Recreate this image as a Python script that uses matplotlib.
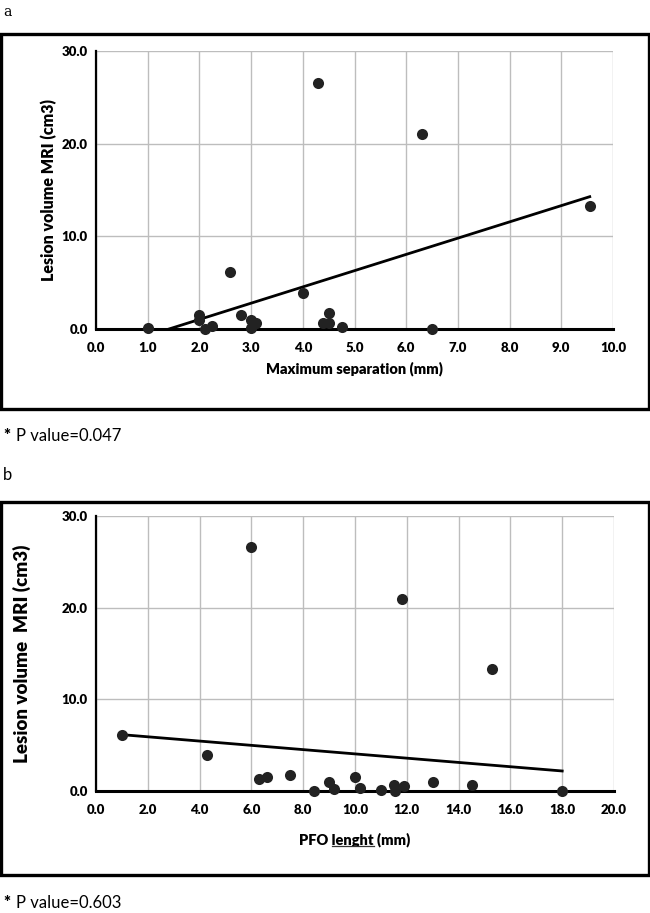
import numpy as np
import matplotlib.pyplot as plt
from matplotlib.patches import Rectangle
from matplotlib.lines import Line2D

plt.rcParams['font.family'] = ['Lato', 'DejaVu Sans']

# panel a: maximum separation vs lesion volume
sep_mm = [1.0, 2.0, 2.0, 2.1, 2.25, 2.6, 2.8, 3.0, 3.0, 3.1, 4.0, 4.3, 4.5, 4.4, 4.5, 4.75, 6.3, 6.5, 9.55]
vol_a = [0.1, 1.5, 1.0, 0.05, 0.3, 6.1, 1.5, 1.0, 0.1, 0.7, 3.9, 26.6, 1.7, 0.7, 0.6, 0.2, 21.0, 0.05, 13.3]

# panel b: PFO length vs lesion volume
pfo_mm = [1.0, 4.3, 6.0, 6.3, 6.6, 7.5, 8.4, 9.0, 9.2, 10.0, 10.2, 11.0, 11.5, 11.55, 11.8, 11.9, 13.0, 14.5, 15.3, 18.0]
vol_b = [6.1, 3.9, 26.6, 1.3, 1.5, 1.7, 0.05, 1.0, 0.2, 1.5, 0.3, 0.1, 0.7, 0.05, 21.0, 0.6, 1.0, 0.7, 13.3, 0.05]

yticks = [0, 10, 20, 30]
xticks_a = np.arange(0, 11, 1)
xticks_b = np.arange(0, 21, 2)

W, H = 650, 913
fig = plt.figure(figsize=(W / 100, H / 100), dpi=100)


def px_axes(left, top, right, bottom):
    return fig.add_axes([left / W, 1 - bottom / H, (right - left) / W, (bottom - top) / H])


def px_box(left, top, right, bottom):
    fig.patches.append(Rectangle((left / W, 1 - bottom / H), (right - left) / W, (bottom - top) / H,
                                 transform=fig.transFigure, fill=False, ec='black', lw=2.4))


def panel(ax, x, y, xticks, xlabel, ylabel, xl_size, yl_size, xpad, ypad):
    x = np.array(x)
    y = np.array(y)
    k, b = np.polyfit(x, y, 1)
    xs = np.array([x.min(), x.max()])
    ax.plot(xs, k * xs + b, color='black', lw=2.0, zorder=2)
    ax.scatter(x, y, s=64, color='#222222', zorder=4, clip_on=False, linewidths=0)
    ax.set_xlim(xticks[0], xticks[-1])
    ax.set_ylim(0, 30)
    ax.set_xticks(xticks)
    ax.set_yticks(yticks)
    ax.set_xticklabels(['%.1f' % t for t in xticks], fontweight='heavy', fontsize=9.5)
    ax.set_yticklabels(['%.1f' % t for t in yticks], fontweight='heavy', fontsize=9.5)
    ax.tick_params(axis='x', length=0, pad=9)
    ax.tick_params(axis='y', length=0, pad=6)
    ax.grid(True, color='#bdbdbd', lw=1.0)
    ax.set_axisbelow(True)
    for s in ['top', 'right']:
        ax.spines[s].set_visible(False)
    ax.spines['left'].set_linewidth(1.6)
    ax.spines['bottom'].set_linewidth(2.2)
    ax.spines['bottom'].set_zorder(3)
    ax.set_xlabel(xlabel, fontsize=xl_size, fontweight='heavy', labelpad=xpad)
    ax.set_ylabel(ylabel, fontsize=yl_size, fontweight='heavy', labelpad=ypad)


ax1 = px_axes(96, 51, 613, 329)
panel(ax1, sep_mm, vol_a, xticks_a, 'Maximum separation (mm)',
      'Lesion volume MRI (cm3)', 10.5, 11.5, 6, 3)
px_box(1, 34, 649, 409)

ax2 = px_axes(96, 516, 614, 791)
panel(ax2, pfo_mm, vol_b, xticks_b, 'PFO lenght (mm)',
      'Lesion volume  MRI (cm3)', 10.5, 13.5, 12, 22)
px_box(1, 502, 649, 875)

fig.text(3 / W, 1 - 12 / H, 'a', family='DejaVu Serif', fontsize=10, va='center')
fig.text(3 / W, 1 - 475 / H, 'b', fontsize=12, va='center')
for yy, txt in [(436, 'P value=0.047'), (903, 'P value=0.603')]:
    fig.text(3 / W, 1 - yy / H, '*', fontsize=12, fontweight='heavy', va='center')
    fig.text(16 / W, 1 - yy / H, txt, fontsize=12, va='center')

# underline "lenght" like the spell-check mark in the original
fig.canvas.draw()
r = fig.canvas.get_renderer()
lab = ax2.xaxis.label
bb = lab.get_window_extent(r)
probe = fig.text(0, 0, 'PFO ', fontsize=10.5, fontweight='heavy')
w0 = probe.get_window_extent(r).width
probe.set_text('PFO lenght')
w1 = probe.get_window_extent(r).width
probe.remove()
uy = bb.y0 + 1
fig.lines.append(Line2D([(bb.x0 + w0) / W, (bb.x0 + w1) / W], [uy / H, uy / H],
                        transform=fig.transFigure, color='#333333', lw=0.9))

fig.savefig('out.png', dpi=100)
